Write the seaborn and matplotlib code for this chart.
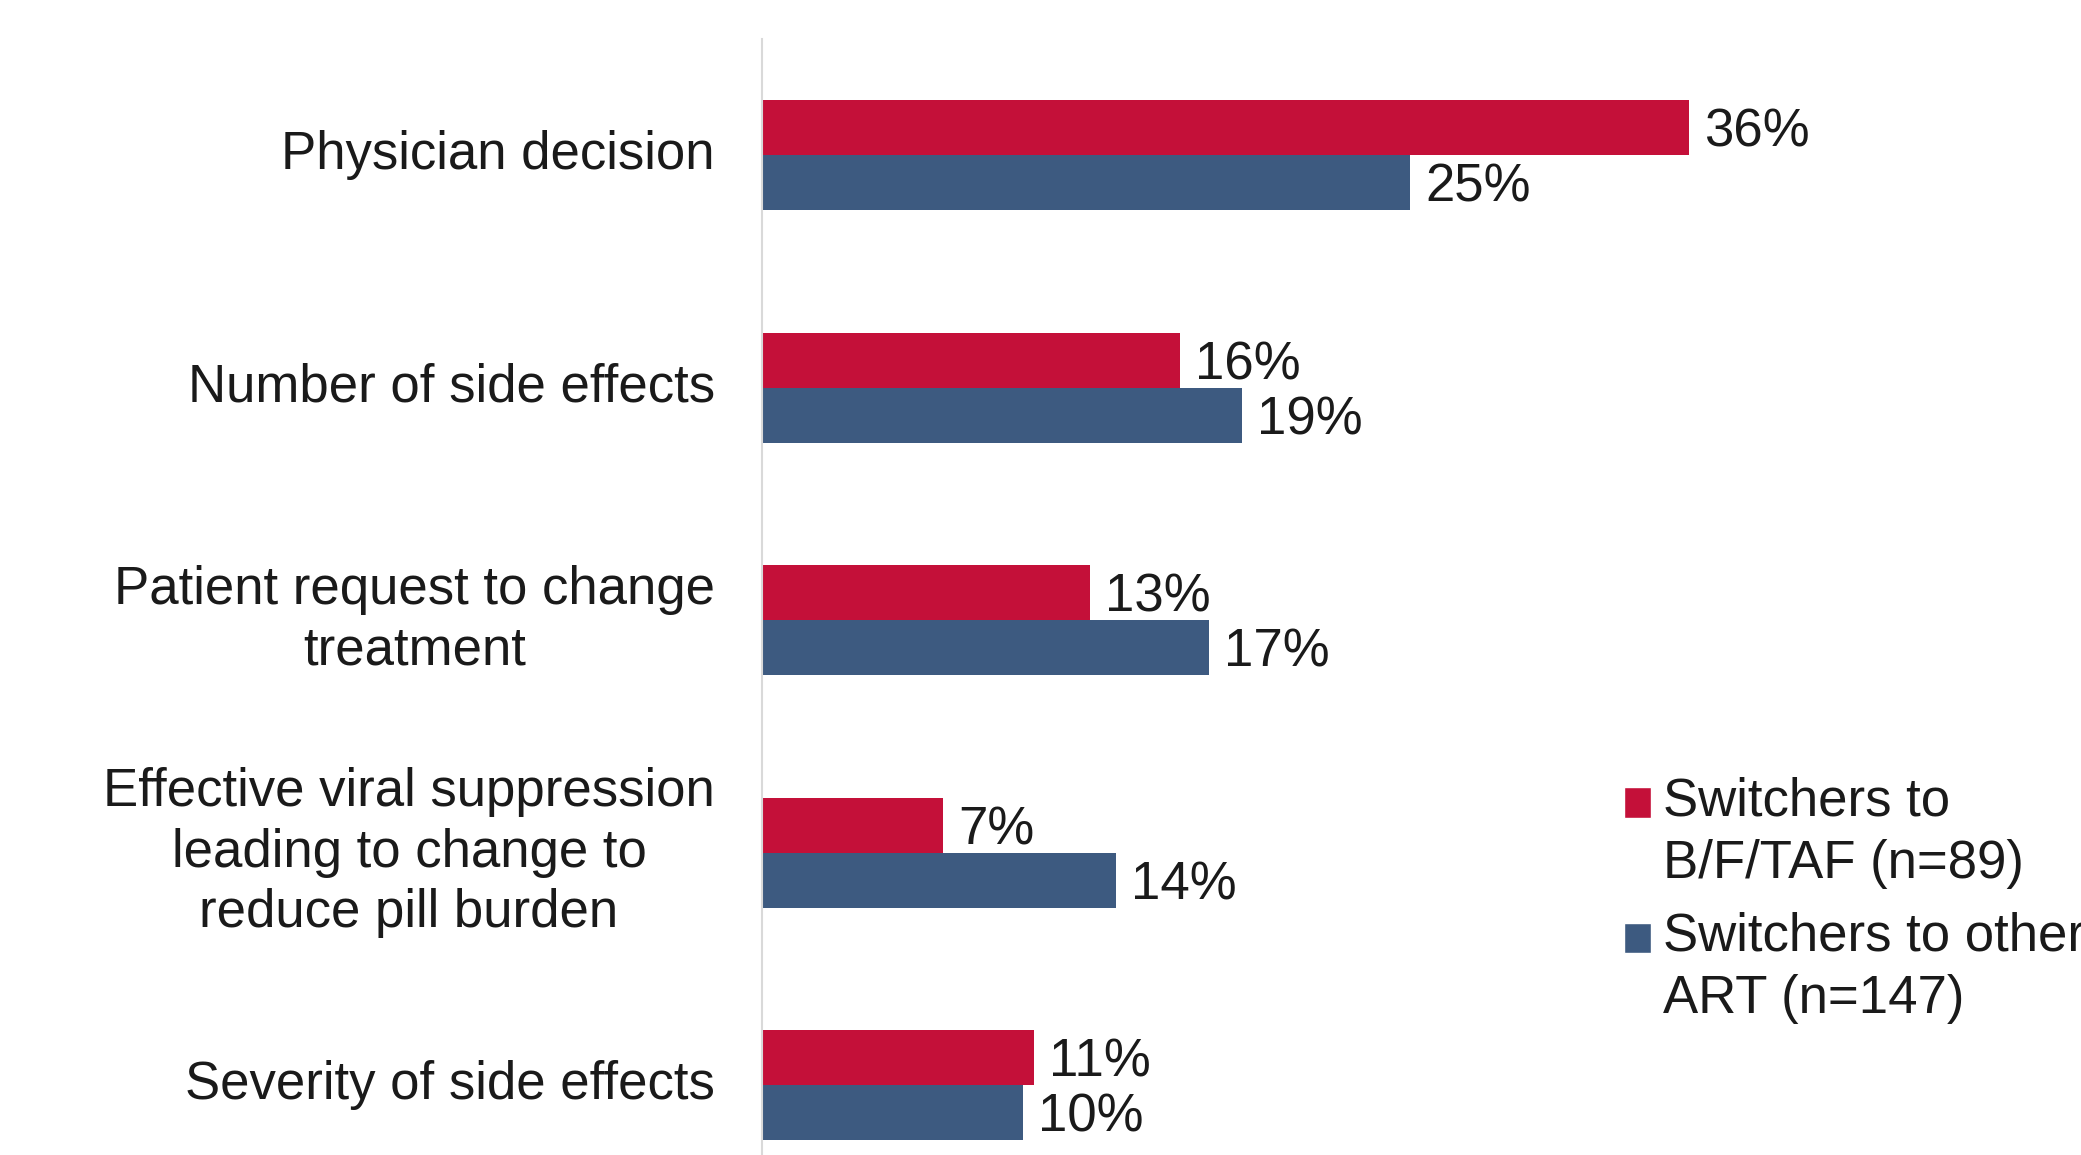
import matplotlib
matplotlib.use('Agg')
import matplotlib.pyplot as plt
from matplotlib.patches import Patch, Rectangle
from matplotlib.legend_handler import HandlerPatch
import seaborn as sns
import pandas as pd

reasons = [
    'Physician decision',
    'Number of side effects',
    'Patient request to change\ntreatment',
    'Effective viral suppression\nleading to change to\nreduce pill burden',
    'Severity of side effects',
]
groups = ['Switchers to\nB/F/TAF (n=89)', 'Switchers to other\nART (n=147)']
bftaf = [35.9, 16.2, 12.7, 7.0, 10.52]
other_art = [25.1, 18.6, 17.3, 13.7, 10.1]
colors = ['#C41039', '#3D5A80']
text_color = '#1A1A1A'

sns.set_style('white')
plt.rcParams['font.family'] = ['Liberation Sans', 'DejaVu Sans']

df = pd.DataFrame({
    'Reason': reasons * 2,
    'Group': [groups[0]] * len(reasons) + [groups[1]] * len(reasons),
    'Percent': bftaf + other_art,
})

fig = plt.figure(figsize=(20.81, 11.55), dpi=100)
ax = fig.add_axes([0.3662, -0.0403, 0.6338, 1.0065])

sns.barplot(
    data=df, y='Reason', x='Percent', hue='Group',
    order=reasons, hue_order=groups, palette=colors,
    orient='h', width=0.474, saturation=1, edgecolor='none', ax=ax,
)

for container in ax.containers:
    anns = ax.bar_label(container, fmt='{:.0f}%', padding=11, fontsize=38, color=text_color)
    for a in anns:
        a.xyann = (11, -3.5)

ax.set_xlim(0, 51.1)
ax.set_ylim(4.5, -0.5)
ax.set_xlabel('')
ax.set_ylabel('')
ax.set_xticks([])
ax.tick_params(axis='y', length=0, pad=34, labelsize=38, labelcolor=text_color)
for t in ax.get_yticklabels():
    t.set_multialignment('center')
    t.set_linespacing(1.27)
    t.set_va('center')

for side in ['top', 'right', 'bottom']:
    ax.spines[side].set_visible(False)
ax.spines['left'].set_color('#D9D9D9')
ax.spines['left'].set_linewidth(1.5)

ax.get_legend().remove()


def first_line_square(legend, orig_handle, xdescent, ydescent, width, height, fontsize):
    # put the square beside the first line of the label
    return Rectangle((-xdescent, -ydescent + 0.58 * fontsize), width, height)


handles = [Patch(facecolor=c) for c in colors]
leg = fig.legend(
    handles, groups, loc='upper left', bbox_to_anchor=(0.7804, 0.328),
    frameon=False, fontsize=38, handlelength=0.51, handleheight=0.51,
    handletextpad=0.22, labelspacing=0.44, borderpad=0, borderaxespad=0,
    handler_map={Patch: HandlerPatch(patch_func=first_line_square)},
)
for t in leg.get_texts():
    t.set_linespacing(1.32)
    t.set_color(text_color)

fig.savefig('out.png', dpi=100)
